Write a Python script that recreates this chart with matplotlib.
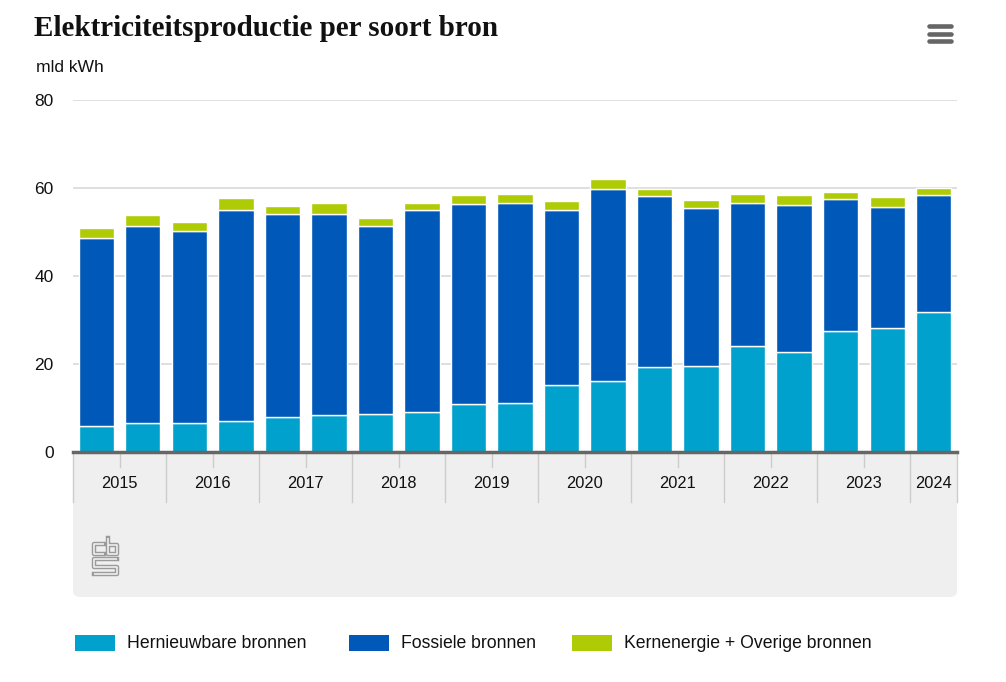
"""
Elektriciteitsproductie per soort bron (CBS) - gestapelde staafgrafiek per halfjaar
"""

import matplotlib
matplotlib.use('Agg')
import matplotlib.pyplot as plt
from matplotlib.patches import Rectangle, FancyBboxPatch
from matplotlib.lines import Line2D
import numpy as np

# Gegevens (mld kWh), per halfjaar
periodes = ['2015-1', '2015-2', '2016-1', '2016-2', '2017-1', '2017-2', '2018-1', '2018-2',
            '2019-1', '2019-2', '2020-1', '2020-2', '2021-1', '2021-2', '2022-1', '2022-2',
            '2023-1', '2023-2', '2024-1']
jaren = ['2015', '2016', '2017', '2018', '2019', '2020', '2021', '2022', '2023', '2024']
hernieuwbaar = [6.0, 6.7, 6.7, 7.1, 8.0, 8.4, 8.7, 9.1, 10.8, 11.1,
                15.2, 16.2, 19.4, 19.6, 24.1, 22.7, 27.5, 28.2, 31.9]
fossiel = [42.6, 44.6, 43.5, 47.9, 46.1, 45.7, 42.6, 45.9, 45.6, 45.6,
           39.8, 43.5, 38.7, 35.8, 32.6, 33.4, 29.9, 27.5, 26.5]
overig = [2.2, 2.6, 2.0, 2.7, 1.9, 2.5, 1.9, 1.6, 1.9, 1.9,
          2.0, 2.3, 1.6, 1.9, 1.9, 2.2, 1.6, 2.3, 1.6]
series_namen = ['Hernieuwbare bronnen', 'Fossiele bronnen', 'Kernenergie + Overige bronnen']
yticks = [0, 20, 40, 60, 80]

# Stijl
KLEUREN = ['#00a1cd', '#0058b8', '#afcb05']
FONT = ['Liberation Sans Narrow', 'Liberation Sans', 'DejaVu Sans']
W, H = 1006, 682


def fx(px):
    return px / W


def fy(py):
    return 1 - py / H


fig = plt.figure(figsize=(W / 100, H / 100), dpi=100)
fig.patch.set_facecolor('white')

# Grijze onderbalk van de x-as
fig.patches.append(FancyBboxPatch((fx(73), fy(597)), fx(957) - fx(73), fy(452) - fy(597),
                                  boxstyle='round,pad=0,rounding_size=0.008',
                                  transform=fig.transFigure, facecolor='#efefef',
                                  edgecolor='none', zorder=0))
fig.patches.append(Rectangle((fx(73), fy(480)), fx(957) - fx(73), fy(452) - fy(480),
                             transform=fig.transFigure, facecolor='#efefef',
                             edgecolor='none', zorder=0))

ax = fig.add_axes([fx(73), fy(452), fx(957) - fx(73), fy(100) - fy(452)])
ax.set_facecolor('none')
ax.set_zorder(2)

x = np.arange(len(periodes))
bodem = np.zeros(len(periodes))
for waarden, kleur, naam in zip([hernieuwbaar, fossiel, overig], KLEUREN, series_namen):
    ax.bar(x, waarden, bottom=bodem, width=0.76, color=kleur, edgecolor='white',
           linewidth=1.0, label=naam, zorder=3)
    bodem = bodem + np.array(waarden)

ax.set_xlim(-0.5, len(periodes) - 0.5)
ax.set_ylim(0, 80)
ax.set_yticks(yticks)
ax.set_yticklabels([str(v) for v in yticks], fontsize=12.5, family=FONT, color='#111111')
ax.tick_params(axis='y', length=0, pad=14)
ax.set_xticks([])
ax.grid(axis='y', color='#d9d9d9', linewidth=1.2, zorder=0)
for s in ['top', 'right', 'left']:
    ax.spines[s].set_visible(False)
ax.spines['bottom'].set_color('#666666')
ax.spines['bottom'].set_linewidth(2.5)
ax.spines['bottom'].set_zorder(5)

# Jaarlabels en scheidingslijnen in de grijze balk
grenzen = [-0.5, 1.5, 3.5, 5.5, 7.5, 9.5, 11.5, 13.5, 15.5, 17.5, 18.5]
trans = ax.get_xaxis_transform()
for g in grenzen:
    ax.add_line(Line2D([g, g], [0, -50 / 352], transform=trans, color='#cccccc',
                       linewidth=1, clip_on=False, zorder=1))
for i, jaar in enumerate(jaren):
    links, rechts = grenzen[i], grenzen[i + 1]
    midden = (links + rechts) / 2
    if rechts - links > 1:
        ax.add_line(Line2D([midden, midden], [0, -15 / 352], transform=trans, color='#cccccc',
                           linewidth=1, clip_on=False, zorder=1))
    ax.text(midden, -31 / 352, jaar, transform=trans, ha='center', va='center',
            fontsize=11.8, family=FONT, color='#111111')

# Titel en eenheid
fig.text(fx(34), fy(29), 'Elektriciteitsproductie per soort bron', fontsize=21,
         fontweight='bold', family=['Liberation Serif', 'DejaVu Serif'], va='center',
         ha='left', color='#111111')
fig.text(fx(36), fy(68), 'mld kWh', fontsize=12.6, family=FONT, va='center', ha='left',
         color='#111111')

# Menu-icoon rechtsboven
for py in [26, 33.5, 41]:
    fig.lines.append(Line2D([fx(929), fx(951)], [fy(py), fy(py)], transform=fig.transFigure,
                            color='#666666', linewidth=3.3, solid_capstyle='round'))

# Eenvoudig CBS-logo (dubbele omtrek)
logo = [
    [(104, 544), (94, 544), (94, 554), (104, 554)],
    [(108, 538), (108, 554), (117, 554), (117, 545), (108, 545)],
    [(117, 559), (94, 559), (94, 566.5), (117, 566.5), (117, 574), (94, 574)],
]
for pad in logo:
    xs = [fx(p[0]) for p in pad]
    ys = [fy(p[1]) for p in pad]
    fig.lines.append(Line2D(xs, ys, transform=fig.transFigure, color='#9a9a9a',
                            linewidth=3.2, solid_capstyle='projecting'))
    fig.lines.append(Line2D(xs, ys, transform=fig.transFigure, color='#efefef',
                            linewidth=1.2, solid_capstyle='butt'))

# Legenda
leg_x = [75, 349, 572]
for lx, kleur, naam in zip(leg_x, KLEUREN, series_namen):
    fig.patches.append(Rectangle((fx(lx), fy(651)), fx(40), fy(0) - fy(16),
                                 transform=fig.transFigure, facecolor=kleur,
                                 edgecolor='none'))
    fig.text(fx(lx + 52), fy(643), naam, fontsize=12.7, family=FONT, va='center',
             ha='left', color='#111111')

plt.savefig('out.png', dpi=100)
